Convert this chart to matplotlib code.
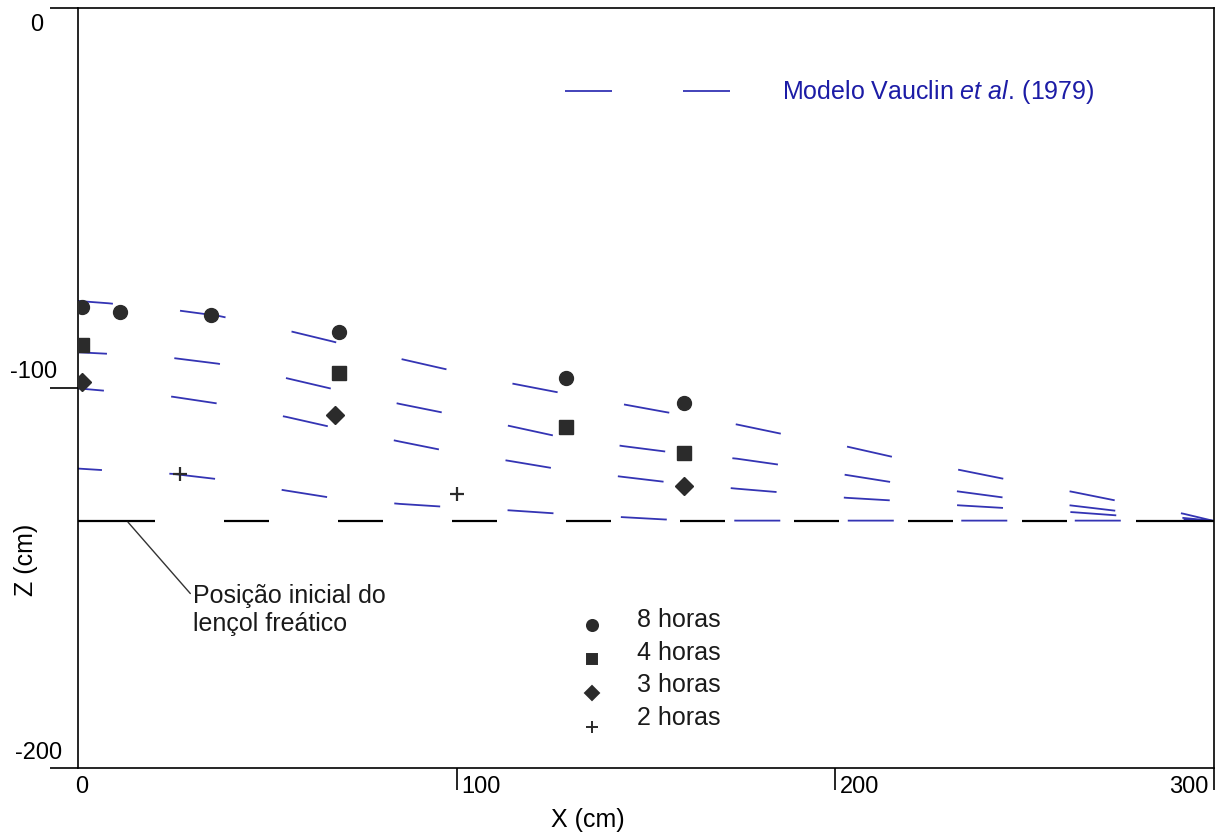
import numpy as np
import matplotlib.pyplot as plt

plt.rcParams["font.family"] = ["Liberation Sans", "DejaVu Sans"]
plt.rcParams["mathtext.fontset"] = "custom"
plt.rcParams["mathtext.rm"] = "Liberation Sans"
plt.rcParams["mathtext.it"] = "Liberation Sans:italic"
plt.rcParams["lines.scale_dashes"] = False

# modelo Vauclin et al. (1979): z (cm) ao longo de x (cm)
x_model = [0, 8, 25, 37, 55, 67, 85, 96, 114, 126, 144, 155, 174, 186, 203, 215, 233, 245, 263, 274, 292, 300]
z_model_8h = [-77.1, -77.7, -79.4, -81.0, -84.8, -87.7, -92.3, -94.8, -98.7, -101.0, -104.3, -106.3,
              -109.6, -112.1, -115.4, -118.1, -121.6, -124.0, -127.4, -129.6, -133.1, -135.0]
z_model_4h = [-90.6, -91.0, -92.1, -93.6, -97.4, -100.2, -104.2, -106.4, -110.0, -112.6, -115.3, -116.7,
              -118.6, -120.3, -122.9, -124.8, -127.3, -128.9, -131.0, -132.3, -134.2, -135.0]
z_model_3h = [-100.1, -100.8, -102.3, -104.1, -107.6, -110.3, -114.1, -116.3, -119.2, -121.2, -123.4, -124.7,
              -126.5, -127.5, -128.9, -129.6, -130.9, -131.6, -132.7, -133.5, -134.5, -135.0]
z_model_2h = [-121.2, -121.7, -122.6, -124.0, -127.0, -128.9, -130.5, -131.2, -132.2, -133.0, -134.0, -134.6,
              -134.9, -134.9, -134.9, -134.9, -134.9, -134.9, -134.9, -134.9, -134.9, -135.0]

# pontos observados
x_obs_8h = [1, 11, 35, 69, 129, 160]
z_obs_8h = [-78.7, -80.0, -80.9, -85.3, -97.3, -103.9]
x_obs_4h = [1, 69, 129, 160]
z_obs_4h = [-88.8, -96.1, -110.3, -117.1]
x_obs_3h = [1, 68, 160]
z_obs_3h = [-98.3, -107.2, -125.9]
x_obs_2h = [27, 100]
z_obs_2h = [-122.6, -127.9]

water_table = -135
labels = ["8 horas", "4 horas", "3 horas", "2 horas"]

blue = "#3434b4"
dark = "#2b2b2b"
px = 0.72  # pixel -> point at dpi 100

fig = plt.figure(figsize=(12.19, 8.35), dpi=100)
ax = fig.add_axes([78 / 1219, 1 - 768 / 835, 1136 / 1219, 760 / 835])
ax.set_xlim(0, 300)
ax.set_ylim(-200, 0)

# model curves, long dashed
offsets = [11, 17, 20, 22]
for z, off in zip([z_model_8h, z_model_4h, z_model_3h, z_model_2h], offsets):
    ax.plot(x_model, z, color=blue, lw=1.3,
            linestyle=(off * px, (46 * px, 67.5 * px)), zorder=2, dash_capstyle="butt")

# initial water table
wt_dash = [77, 69] + [45, 69] * 8 + [78, 10]
ax.plot([0, 300], [water_table, water_table], color="black", lw=1.6,
        linestyle=(0, [d * px for d in wt_dash]), zorder=2)

# observed points
ms = dict(color=dark, mec=dark, linestyle="none", zorder=3)
ax.plot(x_obs_8h, z_obs_8h, marker="o", ms=10, **ms)
ax.plot(x_obs_4h, z_obs_4h, marker="s", ms=9.5, **ms)
ax.plot(x_obs_3h, z_obs_3h, marker="D", ms=9, **ms)
ax.plot(x_obs_2h, z_obs_2h, marker="+", ms=10, mew=1.6, **ms)

# legend of observations
leg_markers = [("o", 8), ("s", 7.5), ("D", 7.5), ("+", 8)]
for i, ((mk, size), lab) in enumerate(zip(leg_markers, labels)):
    ax.plot([0.4525], [0.188 - 0.0445 * i], marker=mk, ms=size, color=dark, mec=dark,
            mew=1.4, linestyle="none", transform=ax.transAxes, clip_on=False)
    ax.text(0.4921, 0.195 - 0.0432 * i, lab, transform=ax.transAxes, fontsize=18,
            ha="left", va="center", color="#1a1a1a")

# legend of the model
ax.plot([0.4287, 0.5783], [0.8908, 0.8908], color=blue, lw=1.3,
        linestyle=(0, (47 * px, 71 * px)), transform=ax.transAxes)
ax.text(0.6197, 0.8895, r"Modelo Vauclin $\mathit{et\ al.}\,$(1979)", transform=ax.transAxes,
        fontsize=18, color="#1c1ca6", ha="left", va="center")

# annotation
ax.annotate("Posição inicial do\nlençol freático", xy=(13.2, -135.3), xytext=(30.4, -158.4),
            fontsize=18, ha="left", va="center", linespacing=1.25, color="#1a1a1a",
            arrowprops=dict(arrowstyle="-", color="#333333", lw=1.0, shrinkA=0, shrinkB=0,
                            relpos=(0, 0.75)))

# axes / ticks
for s in ax.spines.values():
    s.set_linewidth(1.2)
ax.set_xticks([100, 200, 300])
ax.set_yticks([0, -100, -200])
ax.set_xticklabels([])
ax.set_yticklabels([])
ax.tick_params(axis="y", direction="out", length=20, width=1.2)
ax.tick_params(axis="x", direction="out", length=16, width=1.2)

ytick_vals = [0, -100, -200]
ytick_labels = ["0", "-100", "-200"]
ytick_off = [(-25.2, -11.9), (-15.1, 11.5), (-11.5, 10.8)]
for v, lab, (dx, dy) in zip(ytick_vals, ytick_labels, ytick_off):
    ax.annotate(lab, xy=(0, v), xytext=(dx, dy), textcoords="offset points",
                ha="right", va="center", fontsize=17, annotation_clip=False)

xtick_vals = [0, 100, 200, 300]
xtick_labels = ["0", "100", "200", "300"]
xtick_off = [(2.9, -13.7, "center"), (3.6, -13.7, "left"), (3.6, -13.7, "left"), (-4.3, -13.7, "right")]
for v, lab, (dx, dy, ha) in zip(xtick_vals, xtick_labels, xtick_off):
    ax.annotate(lab, xy=(v, -200), xytext=(dx, dy), textcoords="offset points",
                ha=ha, va="center", fontsize=17, annotation_clip=False)

fig.text(588 / 1219, 1 - 820 / 835, "X (cm)", fontsize=18, ha="center", va="center")
fig.text(26 / 1219, 1 - 560 / 835, "Z (cm)", fontsize=18, ha="center", va="center", rotation=90)

fig.savefig("out.png", dpi=100)
